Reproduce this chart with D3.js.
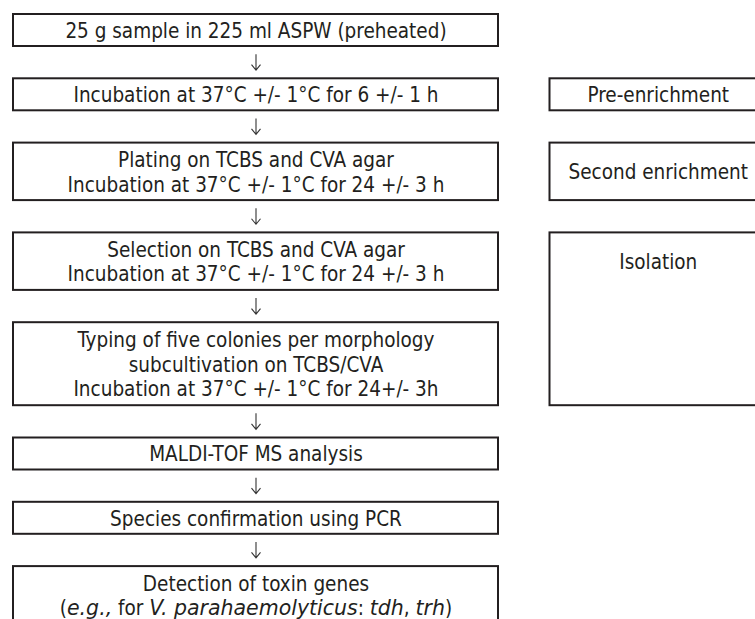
<!DOCTYPE html>
<html>
<head>
<meta charset="utf-8">
<script src="https://cdn.jsdelivr.net/npm/d3@7"></script>
<style>
  html, body { margin: 0; padding: 0; background: #fff; }
  svg { display: block; }
  text { font-family: "DejaVu Sans Condensed", "DejaVu Sans", sans-serif; fill: #231f20; }
  tspan.it { font-family: "DejaVu Sans", sans-serif; font-style: italic; }
</style>
</head>
<body>
<svg id="chart" width="755" height="619"></svg>
<script>
// ---- data ----
const stepLines = [
  [["25 g sample in 225 ml ASPW (preheated)"]],
  [["Incubation at 37°C +/- 1°C for 6 +/- 1 h"]],
  [["Plating on TCBS and CVA agar"], ["Incubation at 37°C +/- 1°C for 24 +/- 3 h"]],
  [["Selection on TCBS and CVA agar"], ["Incubation at 37°C +/- 1°C for 24 +/- 3 h"]],
  [["Typing of five colonies per morphology"], ["subcultivation on TCBS/CVA"], ["Incubation at 37°C +/- 1°C for 24+/- 3h"]],
  [["MALDI-TOF MS analysis"]],
  [["Species confirmation using PCR"]],
  [["Detection of toxin genes"],
   ["(", "e.g.,|i", " for ", "V. parahaemolyticus|i", ": ", "tdh|i", ", ", "trh|i", ")"]]
];
const stageLabels = ["Pre-enrichment", "Second enrichment", "Isolation"];
const stageFirstStep = [1, 2, 3];
const stageLastStep  = [1, 2, 4];

// ---- layout ----
const svg = d3.select("#chart");
const fontSize = 20.5, lineGap = 24.5;
const boxH = n => 32 + (n - 1) * 25.5;
const gapH = 32.3, top0 = 14;

const rows = [];
let yCur = top0;
stepLines.forEach((lines, i) => {
  const h = boxH(lines.length);
  rows.push({ i, lines, y0: yCur, y1: yCur + h });
  yCur += h + gapH;
});

const x = d3.scaleLinear().domain([0, 1]).range([13, 498]);
const xs = d3.scaleLinear().domain([0, 1]).range([549.5, 767]);
const stroke = "#231f20";

function drawLines(g, lines, cx, cy) {
  lines.forEach((parts, li) => {
    const base = cy + (li - (lines.length - 1) / 2) * lineGap + 0.39 * fontSize;
    const t = g.append("text")
      .attr("x", cx).attr("y", base)
      .attr("text-anchor", "middle")
      .attr("font-size", fontSize);
    parts.forEach(p => {
      const [txt, sty] = p.split("|");
      t.append("tspan").text(txt).attr("class", sty === "i" ? "it" : null);
    });
  });
}

// left boxes
const gL = svg.append("g");
rows.forEach(r => {
  gL.append("rect")
    .attr("x", x(0)).attr("y", r.y0)
    .attr("width", x(1) - x(0)).attr("height", r.y1 - r.y0)
    .attr("fill", "none").attr("stroke", stroke).attr("stroke-width", 2);
  drawLines(gL, r.lines, (x(0) + x(1)) / 2 + 0.5, (r.y0 + r.y1) / 2);
});

// arrows between boxes
const ax = (x(0) + x(1)) / 2 + 0.5;
rows.slice(0, -1).forEach((r, k) => {
  const nxt = rows[k + 1];
  const mid = (r.y1 + nxt.y0) / 2;
  const a0 = mid - 8, a1 = mid + 8;
  gL.append("path")
    .attr("d", `M${ax},${a0}V${a1}M${ax - 4.5},${a1 - 5.5}L${ax},${a1}L${ax + 4.5},${a1 - 5.5}`)
    .attr("fill", "none").attr("stroke", "#333").attr("stroke-width", 1.1);
});

// stage boxes
const gR = svg.append("g");
stageLabels.forEach((lab, k) => {
  const rA = rows[stageFirstStep[k]], rB = rows[stageLastStep[k]];
  gR.append("rect")
    .attr("x", xs(0)).attr("y", rA.y0)
    .attr("width", xs(1) - xs(0)).attr("height", rB.y1 - rA.y0)
    .attr("fill", "none").attr("stroke", stroke).attr("stroke-width", 2);
  drawLines(gR, [[lab]], (xs(0) + xs(1)) / 2, (rA.y0 + rA.y1) / 2);
});
</script>
</body>
</html>
